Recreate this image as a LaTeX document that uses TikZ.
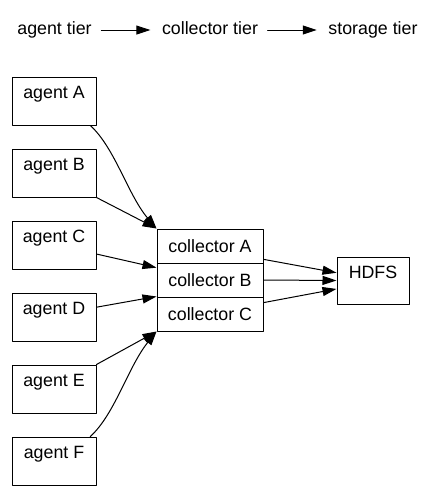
\documentclass[tikz,border=0pt]{standalone}
\usepackage{fontspec}
\setmainfont{Liberation Sans}
\usepackage{tikz}
\usetikzlibrary{arrows.meta}
\tikzstyle{every node}=[font=\fontsize{17.8}{21}\selectfont]
\tikzstyle{tier}=[inner xsep=9.5pt,text height=13pt,text depth=4pt]
\tikzstyle{agentbox}=[draw,line width=1pt,minimum width=84pt,minimum height=48pt,inner sep=0pt,text height=13pt,text depth=18pt]
\tikzstyle{collbox}=[draw,line width=1pt,minimum width=106pt,minimum height=34pt,inner sep=0pt]
\tikzstyle{hdfsbox}=[draw,line width=1pt,minimum width=72pt,minimum height=47pt,inner sep=0pt,text height=13pt,text depth=18pt]

\begin{document}
\begin{tikzpicture}[line cap=round,line join=round,>={Triangle[length=14pt,width=9pt]},x=1pt,y=-1pt]
        \clip(0,0) rectangle (435,491);
        % tiers
        \node[tier] (agtier) at (54.5,30) {agent tier};
        \node[tier] (coltier) at (210,30) {collector tier};
        \node[tier] (stotier) at (373,30) {storage tier};
        \draw [->,line width=1pt,shorten >=2pt] (agtier) -- (coltier);
        \draw [->,line width=1pt,shorten >=2pt] (coltier) -- (stotier);
        % agents
        \node[agentbox] (agA) at (54,101) {agent A};
        \node[agentbox] (agB) at (54,173) {agent B};
        \node[agentbox] (agC) at (54,245) {agent C};
        \node[agentbox] (agD) at (54,317) {agent D};
        \node[agentbox] (agE) at (54,389) {agent E};
        \node[agentbox] (agF) at (54,461) {agent F};
        % collectors
        \node[collbox] (colA) at (210,246) {collector A};
        \node[collbox] (colB) at (210,280) {collector B};
        \node[collbox] (colC) at (210,314) {collector C};
        % storage
        \node[hdfsbox] (hdfs) at (373,280.5) {HDFS};
        % agent edges
        \draw [->,line width=1pt] (agA.-34) .. controls (115,148) and (128,195) .. (colA.north west);
        \draw [->,line width=1pt] (agB.south east) -- (colA.north west);
        \draw [->,line width=1pt] (agC.-12) -- (colB.167);
        \draw [->,line width=1pt] (agD.13) -- (colC.north west);
        \draw [->,line width=1pt] (agE.north east) -- (colC.south west);
        \draw [->,line width=1pt] (agF.34) .. controls (115,414) and (128,367) .. (colC.south west);
        % collector edges
        \draw [->,line width=1pt] (colA.-14) -- (hdfs.168);
        \draw [->,line width=1pt] (colB.east) -- (hdfs.west);
        \draw [->,line width=1pt] (colC.12) -- (hdfs.193);
        \end{tikzpicture}
\end{document}
